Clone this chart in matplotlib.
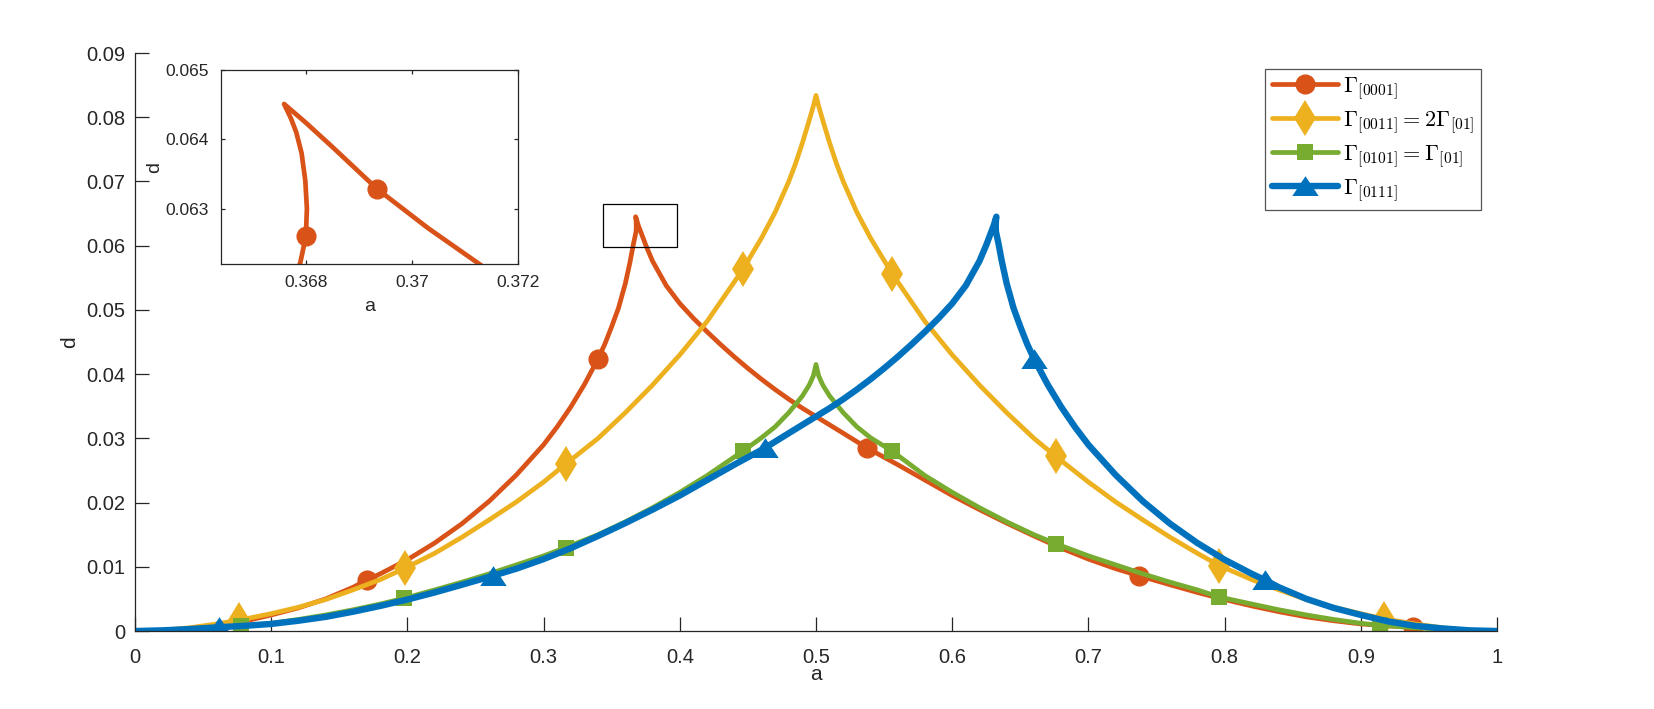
import numpy as np
import matplotlib
matplotlib.use("Agg")
import matplotlib.pyplot as plt
from matplotlib.patches import Rectangle

plt.rcParams['font.family'] = ['Liberation Sans', 'DejaVu Sans']
plt.rcParams['mathtext.fontset'] = 'cm'

# curves (a, d)
orange_a = [0.0, 0.02, 0.04, 0.06, 0.08, 0.10, 0.12, 0.14, 0.16, 0.17, 0.18, 0.20, 0.22, 0.24, 0.26,
            0.28, 0.30, 0.31, 0.32, 0.33, 0.34, 0.345, 0.35, 0.355, 0.36, 0.3635, 0.366, 0.36789,
            0.3680, 0.36802, 0.36799, 0.36792, 0.36782, 0.36772, 0.36759,
            0.3680, 0.3685, 0.36935, 0.3703, 0.37127, 0.375, 0.38, 0.39, 0.40, 0.41, 0.42, 0.43,
            0.44, 0.45, 0.46, 0.47, 0.48, 0.49, 0.50, 0.52, 0.5375, 0.56, 0.58, 0.60, 0.62, 0.64,
            0.66, 0.68, 0.70, 0.72, 0.7372, 0.76, 0.78, 0.80, 0.82, 0.84, 0.86, 0.88, 0.90, 0.92,
            0.938, 0.96, 0.98, 1.0]
orange_d = [0.0, 0.0001, 0.0004, 0.0008, 0.0015, 0.0025, 0.0036, 0.0050, 0.0068, 0.0079, 0.0089,
            0.0111, 0.0137, 0.0167, 0.0202, 0.0243, 0.0290, 0.0318, 0.0349, 0.0384, 0.0424, 0.0447,
            0.0474, 0.0503, 0.0541, 0.0575, 0.0603, 0.0622,
            0.0626, 0.0630, 0.0634, 0.0638, 0.0641, 0.0643, 0.06451,
            0.06424, 0.06389, 0.06328, 0.06272, 0.0622, 0.0601, 0.0576, 0.0538, 0.0510, 0.0487,
            0.0466, 0.0446, 0.0427, 0.0409, 0.0392, 0.0376, 0.0361, 0.0347, 0.0334, 0.0308, 0.0285,
            0.0259, 0.0235, 0.0211, 0.0189, 0.0168, 0.0148, 0.0129, 0.0112, 0.0097, 0.0086, 0.0072,
            0.0060, 0.0049, 0.0039, 0.0030, 0.0022, 0.0016, 0.0011, 0.0008, 0.0006, 0.0003, 0.0001, 0.0]

yellow_a = [0.0, 0.02, 0.04, 0.06, 0.0767, 0.10, 0.12, 0.14, 0.16, 0.18, 0.1984, 0.22, 0.24, 0.26,
            0.28, 0.30, 0.3162, 0.34, 0.36, 0.38, 0.40, 0.42, 0.4463, 0.46, 0.47, 0.48, 0.485, 0.49,
            0.495, 0.498, 0.5, 0.502, 0.505, 0.51, 0.515, 0.52, 0.53, 0.54, 0.556, 0.58, 0.60, 0.62,
            0.64, 0.66, 0.676, 0.70, 0.72, 0.74, 0.76, 0.78, 0.796, 0.82, 0.84, 0.86, 0.88, 0.90,
            0.9167, 0.94, 0.96, 0.98, 1.0]
yellow_d = [0.0, 0.0001, 0.0005, 0.0011, 0.0017, 0.0027, 0.0037, 0.0049, 0.0064, 0.0080, 0.0098,
            0.0121, 0.0146, 0.0173, 0.0201, 0.0232, 0.0260, 0.0300, 0.0340, 0.0383, 0.0430, 0.0482,
            0.0563, 0.0612, 0.0652, 0.0700, 0.0728, 0.0760, 0.0795, 0.0817, 0.0834, 0.0817, 0.0795,
            0.0760, 0.0728, 0.0700, 0.0652, 0.0612, 0.0556, 0.0482, 0.0430, 0.0383, 0.0340, 0.0300,
            0.0272, 0.0232, 0.0201, 0.0173, 0.0146, 0.0121, 0.0102, 0.0080, 0.0064, 0.0049, 0.0037,
            0.0027, 0.0019, 0.0011, 0.0005, 0.0001, 0.0]

green_a = [0.0, 0.02, 0.04, 0.06, 0.078, 0.10, 0.12, 0.14, 0.16, 0.18, 0.1978, 0.22, 0.24, 0.26,
           0.28, 0.30, 0.3162, 0.34, 0.36, 0.38, 0.40, 0.42, 0.4463, 0.46, 0.47, 0.48, 0.49, 0.495,
           0.498, 0.5, 0.502, 0.505, 0.51, 0.52, 0.53, 0.54, 0.556, 0.58, 0.60, 0.62, 0.64, 0.66,
           0.676, 0.70, 0.72, 0.74, 0.76, 0.78, 0.796, 0.82, 0.84, 0.86, 0.88, 0.90, 0.914, 0.94,
           0.96, 0.98, 1.0]
green_d = [0.0, 0.0001, 0.0003, 0.0005, 0.0008, 0.0012, 0.0018, 0.0025, 0.0033, 0.0042, 0.0051,
           0.0064, 0.0076, 0.0089, 0.0103, 0.0117, 0.0130, 0.0150, 0.0170, 0.0192, 0.0216, 0.0242,
           0.0280, 0.0301, 0.0318, 0.0340, 0.0366, 0.0383, 0.0397, 0.0415, 0.0397, 0.0383, 0.0366,
           0.0340, 0.0318, 0.0301, 0.0280, 0.0242, 0.0216, 0.0192, 0.0170, 0.0150, 0.0136, 0.0117,
           0.0103, 0.0089, 0.0076, 0.0064, 0.0053, 0.0042, 0.0033, 0.0025, 0.0018, 0.0012, 0.0009,
           0.0005, 0.0003, 0.0001, 0.0]

blue_a = [0.0, 0.02, 0.04, 0.062, 0.08, 0.10, 0.12, 0.14, 0.16, 0.18, 0.20, 0.22, 0.24, 0.2628,
          0.28, 0.30, 0.32, 0.34, 0.36, 0.38, 0.40, 0.42, 0.44, 0.4625, 0.48, 0.50, 0.51, 0.52,
          0.53, 0.54, 0.55, 0.56, 0.57, 0.58, 0.59, 0.60, 0.61, 0.62, 0.625, 0.62873, 0.6297,
          0.63065, 0.6315, 0.632, 0.63241, 0.63228, 0.63218, 0.63208, 0.63201, 0.63198, 0.632,
          0.63211, 0.634, 0.6365, 0.64, 0.645, 0.65, 0.655, 0.66, 0.67, 0.68, 0.69, 0.70, 0.72,
          0.74, 0.76, 0.78, 0.80, 0.82, 0.83, 0.84, 0.86, 0.88, 0.90, 0.92, 0.94, 0.96, 0.98, 1.0]
blue_d = [0.0, 0.0001, 0.0003, 0.0006, 0.0008, 0.0011, 0.0016, 0.0022, 0.0030, 0.0039, 0.0049,
          0.0060, 0.0072, 0.0086, 0.0097, 0.0112, 0.0129, 0.0148, 0.0168, 0.0189, 0.0211, 0.0235,
          0.0259, 0.0285, 0.0308, 0.0334, 0.0347, 0.0361, 0.0376, 0.0392, 0.0409, 0.0427, 0.0446,
          0.0466, 0.0487, 0.0510, 0.0538, 0.0576, 0.0601, 0.0622, 0.06272, 0.06328, 0.06389,
          0.06424, 0.06451, 0.0643, 0.0641, 0.0638, 0.0634, 0.0630, 0.0626, 0.0622, 0.0603,
          0.0575, 0.0541, 0.0503, 0.0474, 0.0447, 0.0424, 0.0384, 0.0349, 0.0318, 0.0290, 0.0243,
          0.0202, 0.0167, 0.0137, 0.0111, 0.0089, 0.0079, 0.0068, 0.0050, 0.0036, 0.0025, 0.0015,
          0.0008, 0.0004, 0.0001, 0.0]

# marker locations (points of the curves above)
orange_mk = [(0.17, 0.0079), (0.34, 0.0424), (0.5375, 0.0285), (0.7372, 0.0086), (0.938, 0.0006)]
orange_inset_mk = [(0.3680, 0.0626), (0.36935, 0.06328)]
yellow_mk = [(0.0767, 0.0017), (0.1984, 0.0098), (0.3162, 0.0260), (0.4463, 0.0563), (0.556, 0.0556),
             (0.676, 0.0272), (0.796, 0.0102), (0.9167, 0.0019)]
green_mk = [(0.078, 0.0008), (0.1978, 0.0051), (0.3162, 0.0130), (0.4463, 0.0280), (0.556, 0.0280),
            (0.676, 0.0136), (0.796, 0.0053), (0.914, 0.0009)]
blue_mk = [(0.062, 0.0006), (0.2628, 0.0086), (0.4625, 0.0285), (0.66, 0.0424), (0.83, 0.0079)]

labels = [r'$\Gamma_{[0001]}$', r'$\Gamma_{[0011]} = 2\Gamma_{[01]}$',
          r'$\Gamma_{[0101]} = \Gamma_{[01]}$', r'$\Gamma_{[0111]}$']

x_ticks = [0, 0.1, 0.2, 0.3, 0.4, 0.5, 0.6, 0.7, 0.8, 0.9, 1]
x_ticklabels = ['0', '0.1', '0.2', '0.3', '0.4', '0.5', '0.6', '0.7', '0.8', '0.9', '1']
y_ticks = [0, 0.01, 0.02, 0.03, 0.04, 0.05, 0.06, 0.07, 0.08, 0.09]
y_ticklabels = ['0', '0.01', '0.02', '0.03', '0.04', '0.05', '0.06', '0.07', '0.08', '0.09']
inset_xticks = [0.368, 0.37, 0.372]
inset_xticklabels = ['0.368', '0.37', '0.372']
inset_yticks = [0.063, 0.064, 0.065]
inset_yticklabels = ['0.063', '0.064', '0.065']
zoom_box = (0.3436, 0.0598, 0.0543, 0.0067)

C_OR = '#D95319'
C_YE = '#EDB120'
C_GR = '#77AC30'
C_BL = '#0072BD'
AX_COL = '#262626'

tri = [(-1, -0.72), (1, -0.72), (0, 0.78), (-1, -0.72)]


def mark_idx(xs, ys, pts):
    xs = np.asarray(xs)
    ys = np.asarray(ys)
    return [int(np.argmin(np.hypot(xs - p[0], (ys - p[1]) * 10))) for p in pts]


fig = plt.figure(figsize=(16.54, 7.09), dpi=100)
ax = fig.add_axes([0.0816, 0.1100, 0.8235, 0.8152])

style = dict(solid_joinstyle='round', solid_capstyle='round')
ax.plot(orange_a, orange_d, color=C_OR, lw=3.4, marker='o', ms=13.5,
        markevery=mark_idx(orange_a, orange_d, orange_mk), label=labels[0], **style)
ax.plot(yellow_a, yellow_d, color=C_YE, lw=3.4, marker='d', ms=18, mew=0,
        markevery=mark_idx(yellow_a, yellow_d, yellow_mk), label=labels[1], **style)
ax.plot(green_a, green_d, color=C_GR, lw=3.4, marker='s', ms=11.5, mew=0,
        markevery=mark_idx(green_a, green_d, green_mk), label=labels[2], **style)
ax.plot(blue_a, blue_d, color=C_BL, lw=4.6, marker=tri, ms=19, mew=0,
        markevery=mark_idx(blue_a, blue_d, blue_mk), label=labels[3], **style)

ax.add_patch(Rectangle((zoom_box[0], zoom_box[1]), zoom_box[2], zoom_box[3],
                       fill=False, edgecolor='black', lw=0.9, zorder=5))

ax.set_xlim(0, 1)
ax.set_ylim(0, 0.09)
ax.set_xticks(x_ticks, x_ticklabels)
ax.set_yticks(y_ticks, y_ticklabels)
ax.spines['top'].set_visible(False)
ax.spines['right'].set_visible(False)
for s in ['left', 'bottom']:
    ax.spines[s].set_color(AX_COL)
    ax.spines[s].set_linewidth(0.9)
ax.tick_params(direction='in', length=10, width=0.9, colors=AX_COL, labelsize=14.5)
ax.tick_params(axis='x', pad=12)
ax.tick_params(axis='y', pad=7)
ax.set_xlabel('a', fontsize=15, color=AX_COL, labelpad=-1)
ax.set_ylabel('d', fontsize=15, color=AX_COL, labelpad=5)

leg = ax.legend(loc='upper right', bbox_to_anchor=(0.8954, 0.9027), bbox_transform=fig.transFigure,
                borderaxespad=0, fontsize=16, handlelength=3.0, handletextpad=0.2,
                labelspacing=0.35, borderpad=0.3, fancybox=False, framealpha=1)
leg.get_frame().set_edgecolor('#555555')
leg.get_frame().set_linewidth(0.9)

# inset
axi = fig.add_axes([0.1336, 0.6276, 0.1796, 0.2736])
axi.plot(orange_a, orange_d, color=C_OR, lw=3.4, marker='o', ms=13.5,
         markevery=mark_idx(orange_a, orange_d, orange_inset_mk), **style)
axi.set_xlim(0.3664, 0.372)
axi.set_ylim(0.0622, 0.065)
axi.set_xticks(inset_xticks, inset_xticklabels)
axi.set_yticks(inset_yticks, inset_yticklabels)
for s in axi.spines.values():
    s.set_color(AX_COL)
    s.set_linewidth(0.9)
axi.tick_params(direction='in', length=3, width=0.9, colors=AX_COL, labelsize=12.5,
                top=True, right=True)
axi.tick_params(axis='x', pad=8)
axi.tick_params(axis='y', pad=9)
axi.set_xlabel('a', fontsize=14, color=AX_COL, labelpad=6)
axi.set_ylabel('d', fontsize=14, color=AX_COL, labelpad=1)

fig.savefig('out.png', dpi=100, facecolor='white')
